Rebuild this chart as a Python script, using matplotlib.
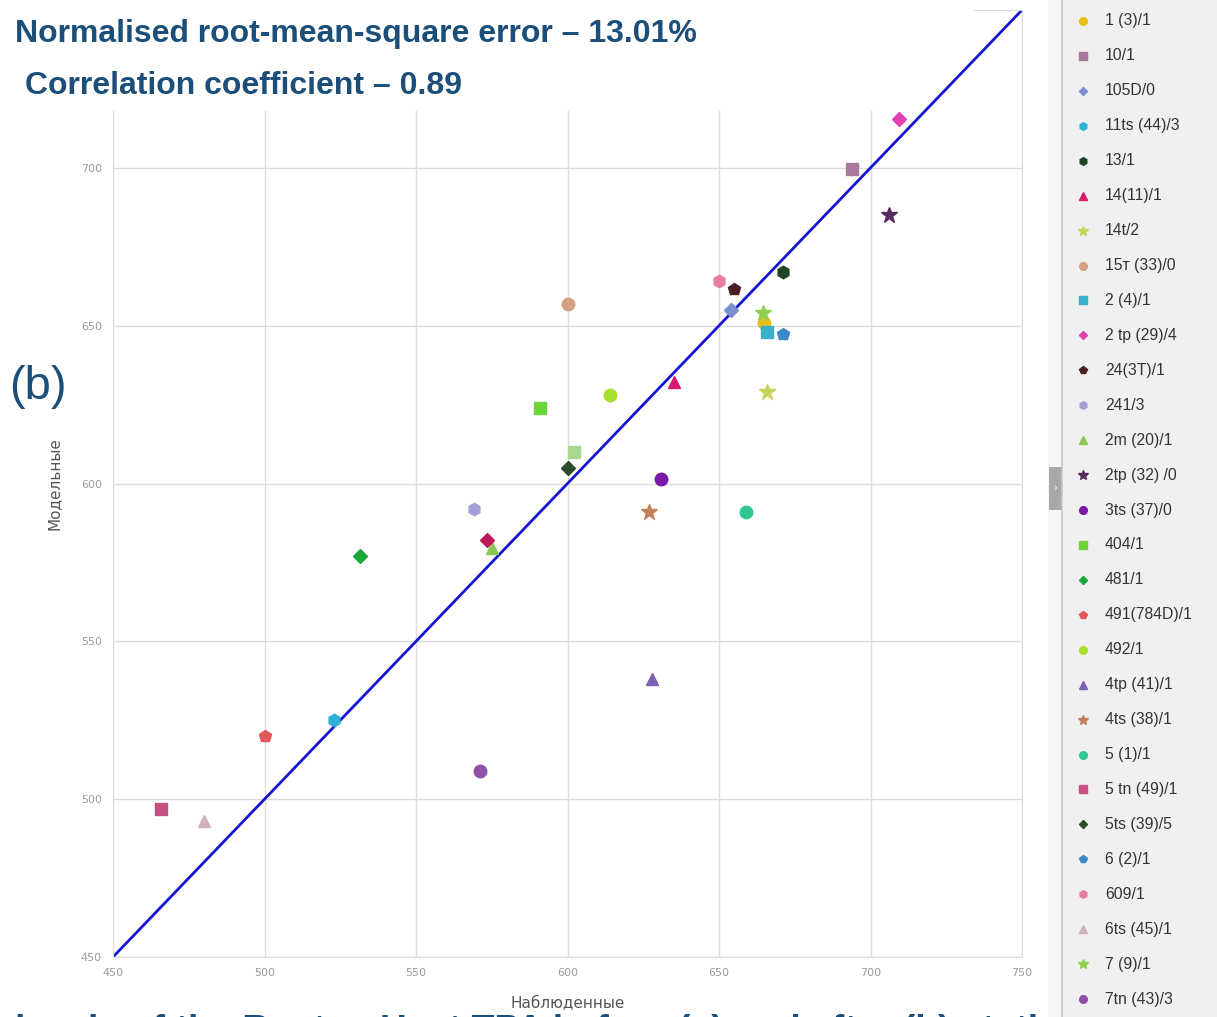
import matplotlib
matplotlib.use("Agg")
import matplotlib.pyplot as plt
from matplotlib.patches import Rectangle

# observed (x) vs modelled (y) values per well
labels = ["1 (3)/1", "10/1", "105D/0", "11ts (44)/3", "13/1", "14(11)/1", "14t/2",
          "15т (33)/0", "2 (4)/1", "2 tp (29)/4", "24(3T)/1", "241/3", "2m (20)/1",
          "2tp (32) /0", "3ts (37)/0", "404/1", "481/1", "491(784D)/1", "492/1",
          "4tp (41)/1", "4ts (38)/1", "5 (1)/1", "5 tn (49)/1", "5ts (39)/5",
          "6 (2)/1", "609/1", "6ts (45)/1", "7 (9)/1", "7tn (43)/3"]
observed = [665, 694, 654, 523, 671, 635, 666, 600, 666, 709.5, 655, 569, 575,
            706, 631, 591, 531.5, 500, 614, 628, 627, 659, 466, 600, 671, 650,
            480, 664.5, 571]
modelled = [651, 699.5, 655, 525, 667, 632, 629, 657, 648, 715.5, 661.5, 592, 579.5,
            685, 601.5, 624, 577, 520, 628, 538, 591, 591, 497, 605, 647.5, 664,
            493, 654, 509]
markers = ["o", "s", "D", "h", "h", "^", "*", "o", "s", "D", "p", "h", "^",
           "*", "o", "s", "D", "p", "o", "^", "*", "o", "s", "D", "p", "h",
           "^", "*", "o"]
colors = ["#e6c01a", "#a8789e", "#7a8fcf", "#2fb0d8", "#1e4422", "#d81b72", "#c8d45a",
          "#d4a088", "#3ab0c8", "#e040b0", "#4a1e22", "#a3a0d8", "#8cc850",
          "#5a2a5e", "#7a18a8", "#6cd43a", "#1aa83a", "#e05858", "#a8e030",
          "#8060b0", "#c0805a", "#30c890", "#c85080", "#2a4a2a", "#3a88c8",
          "#e87ca0", "#d0b0c0", "#90d050", "#9050a8"]

# series whose legend rows are cut off below the panel
extra_observed = [573.5, 602]
extra_modelled = [582, 610]
extra_markers = ["D", "s"]
extra_colors = ["#c0185a", "#a8d890"]

ticks = [450, 500, 550, 600, 650, 700, 750]
title_color = "#1b4f7a"
sizes = {"*": 12, "D": 7, "s": 8.5, "^": 9, "o": 9, "h": 9, "p": 9}

fig = plt.figure(figsize=(12.17, 10.17), dpi=100)
fig.patch.set_facecolor("white")

ax = fig.add_axes([113 / 1217, 1 - 957 / 1017, 909 / 1217, 947 / 1017])
ax.set_xlim(450, 750)
ax.set_ylim(450, 750)
ax.set_xticks(ticks)
ax.set_yticks(ticks[:-1])
ax.grid(True, color="#dcdcdc", lw=1)
ax.set_axisbelow(True)
for sp in ax.spines.values():
    sp.set_color("#dcdcdc")
ax.spines["left"].set_bounds(450, 718)
ax.spines["top"].set_bounds(734, 750)
ax.tick_params(length=0, labelsize=8, labelcolor="#9a9a9a", pad=8)
ax.set_xlabel("Наблюденные", fontsize=11, color="#555555", labelpad=12)
ax.set_ylabel("Модельные", fontsize=11, color="#555555", labelpad=14)

# the header region hides the grid above the plot
ax.add_patch(Rectangle((440, 718), 294, 40, fc="white", ec="none", zorder=1.5,
                       clip_on=False))

ax.plot([450, 750], [450, 750], color="#1414d2", lw=2, zorder=2)

for x, y, m, c in zip(observed, modelled, markers, colors):
    ax.plot(x, y, marker=m, ms=sizes[m], color=c, mec=c, ls="none", zorder=3)
for x, y, m, c in zip(extra_observed, extra_modelled, extra_markers, extra_colors):
    ax.plot(x, y, marker=m, ms=sizes[m], color=c, mec=c, ls="none", zorder=3)

# headline texts over the plot
fam = ["Liberation Sans", "DejaVu Sans"]
fig.text(15 / 1217, 1 - 34 / 1017, "Normalised root-mean-square error – 13.01%",
         fontsize=23, fontweight="bold", color=title_color, va="center", family=fam)
fig.text(25 / 1217, 1 - 86 / 1017, "Correlation coefficient – 0.89",
         fontsize=23, fontweight="bold", color=title_color, va="center", family=fam)
fig.text(9 / 1217, 1 - 387 / 1017, "(b)", fontsize=34, color=title_color,
         va="center", family=fam)
fig.text(15 / 1217, 1 - 1032 / 1017,
         "levels of the Rostov Heat TPA before (a) and after (b) stati",
         fontsize=27, fontweight="bold", color=title_color, va="center", family=fam)

# legend panel on the right
lg = fig.add_axes([1048 / 1217, 0, 169 / 1217, 1])
lg.set_xlim(0, 169)
lg.set_ylim(1017, 0)
lg.axis("off")
lg.add_patch(Rectangle((0, 0), 169, 1017, fc="#f0f0f0", ec="none"))
lg.add_patch(Rectangle((0, 0), 14, 1017, fc="#f6f6f6", ec="none"))
lg.plot([14, 14], [0, 1017], color="#c8c8c8", lw=1.2)
lg.add_patch(Rectangle((1, 467), 13, 43, fc="#a8a8a8", ec="none"))
lg.text(7.5, 488, "›", color="white", fontsize=7, ha="center", va="center")

for i, (lab, m, c) in enumerate(zip(labels, markers, colors)):
    yy = 21 + i * 34.93
    ms = 7 if m == "*" else (4.5 if m == "D" else 5.5)
    lg.plot(35, yy, marker=m, ms=ms, color=c, mec=c, ls="none")
    lg.text(57, yy, lab, fontsize=11.3, color="#333333", va="center",
            family=["Liberation Sans Narrow", "Liberation Sans", "DejaVu Sans"])

fig.savefig("out.png", dpi=100)
